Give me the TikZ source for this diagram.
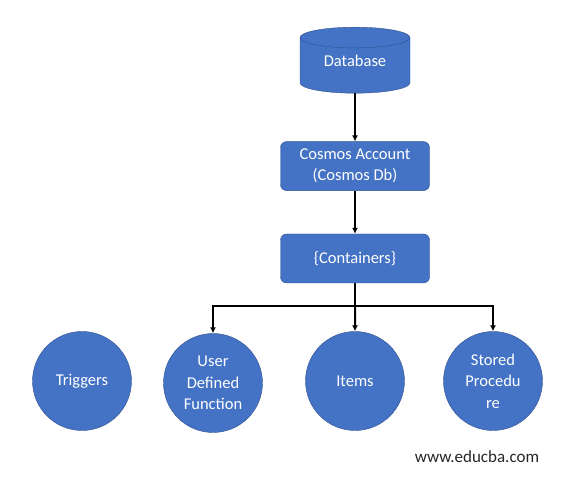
\documentclass[tikz,border=0pt]{standalone}
\usepackage{fontspec}
\setmainfont{Carlito}
\usetikzlibrary{positioning,arrows.meta,shapes.geometric}
\definecolor{boxblue}{HTML}{4472C4}
\definecolor{edgeblue}{HTML}{2F528F}

\begin{document}
\begin{tikzpicture}[
		x=1pt, y=-1pt,
		node distance=43pt,
		box/.style={draw=edgeblue, fill=boxblue, text=white, rounded corners=6pt, align=center, minimum width=149pt, minimum height=49pt, font=\fontsize{16.5}{21}\selectfont},
		dbase/.style={cylinder, shape border rotate=90, aspect=0.3, draw=edgeblue, fill=boxblue, text=white, text depth=12pt, minimum width=110pt, minimum height=66pt, font=\fontsize{16.5}{18}\selectfont},
		ball/.style={circle, draw=edgeblue, fill=boxblue, text=white, minimum size=99pt, inner sep=0pt, align=center, font=\fontsize{16.5}{21.5}\selectfont},
		arr/.style={-{Latex[length=6pt,width=6pt]}, line width=2pt},
		link/.style={line width=2pt}
		]
		\useasboundingbox (0,0) rectangle (574,478);
		\node[dbase, anchor=north] (db) at (355,27) {Database};
		\node[box, below=48pt of db] (acct) {Cosmos Account\\(Cosmos Db)};
		\node[box, below=of acct] (cont) {\{Containers\}};
		
		\node[ball] (trig) at (82,381) {Triggers};
		\node[ball] (udf) at (213,383) {User\\Defined\\Function};
		\node[ball] (items) at (355,381) {Items};
		\node[ball] (store) at (493,381) {Stored\\Procedu\\re};
		
		\node[font=\fontsize{17}{20}\selectfont, text=black!85] (site) at (477,457) {www.educba.com};
		
		\draw[arr] (db) -- (acct);
		\draw[arr] (acct) -- (cont);
		\coordinate (fork) at (cont.south |- 0,306);
		\draw[link] (cont) -- (fork);
		\draw[link] ([xshift=-1pt]fork -| udf) -- ([xshift=1pt]fork -| store);
		\draw[arr] (fork -| udf) -- (udf);
		\draw[arr] (fork) -- (items);
		\draw[arr] (fork -| store) -- (store);
	\end{tikzpicture}
\end{document}
